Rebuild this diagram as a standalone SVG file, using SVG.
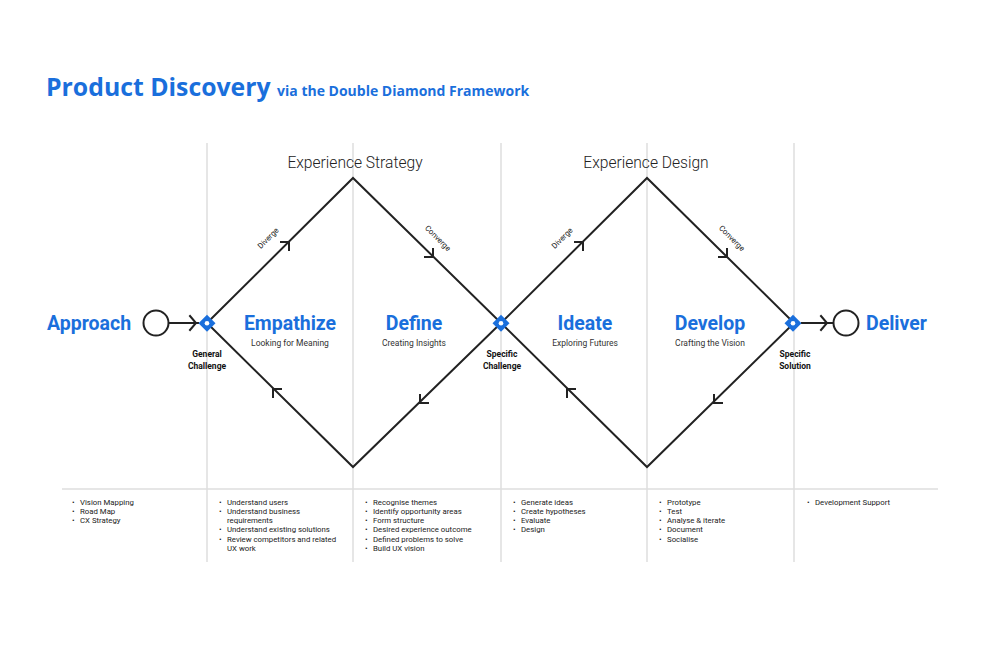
<svg xmlns="http://www.w3.org/2000/svg" width="1000" height="666" viewBox="0 0 1000 666">
<style>
.grid{stroke:#dedede;stroke-width:1.5;fill:none}
.dl{stroke:#222;stroke-width:2;fill:none}
.ah{stroke:#222;stroke-width:2;fill:none;stroke-linecap:square}
.title{font-family:"Open Sans",sans-serif;font-weight:700;fill:#1a6fdc}
.phase{font-family:Roboto,"Liberation Sans",sans-serif;font-weight:700;font-size:19.5px;fill:#1a6fdc}
.sub{font-family:Roboto,"Liberation Sans",sans-serif;font-size:8.5px;fill:#333;text-anchor:middle}
.node{font-family:Roboto,"Liberation Sans",sans-serif;font-weight:700;font-size:8.5px;fill:#111;text-anchor:middle}
.exp{font-family:Roboto,"Liberation Sans",sans-serif;font-weight:300;font-size:15.6px;fill:#222;text-anchor:middle}
.dv{font-family:Roboto,"Liberation Sans",sans-serif;font-size:7.8px;fill:#222;text-anchor:middle}
.li{font-family:Roboto,"Liberation Sans",sans-serif;font-size:7.8px;fill:#222}
</style>
<rect width="1000" height="666" fill="#fff"/>
<g id="title">
<text class="title" x="46" y="96" font-size="24.8">Product Discovery <tspan font-size="14">via the Double Diamond Framework</tspan></text>
</g>
<g id="grid">
<line class="grid" x1="207" y1="143" x2="207" y2="562"/>
<line class="grid" x1="353" y1="143" x2="353" y2="562"/>
<line class="grid" x1="501" y1="143" x2="501" y2="562"/>
<line class="grid" x1="647" y1="143" x2="647" y2="562"/>
<line class="grid" x1="794" y1="143" x2="794" y2="562"/>
<line class="grid" x1="62" y1="489" x2="938" y2="489"/>
</g>
<g id="connectors">
<polygon class="dl" points="207,323 353,178 501,323 353,467"/>
<polygon class="dl" points="501,323 647,178 794,323 647,467"/>
<line class="dl" x1="169" y1="323" x2="199" y2="323"/>
<line class="dl" x1="801" y1="323" x2="833" y2="323"/>
<polyline class="ah" points="190,316 196,323 190,330"/>
<polyline class="ah" points="821,316 827,323 821,330"/>
<polyline class="ah" points="281,242 289,242 289,250"/>
<polyline class="ah" points="433,249 433,257 425,257"/>
<polyline class="ah" points="281,389 273,389 273,397"/>
<polyline class="ah" points="420,395 420,403 428,403"/>
<polyline class="ah" points="575,242 583,242 583,250"/>
<polyline class="ah" points="727,249 727,257 719,257"/>
<polyline class="ah" points="575,389 567,389 567,397"/>
<polyline class="ah" points="714,395 714,403 722,403"/>
<text class="dv" transform="translate(270,240) rotate(-45)">Diverge</text>
<text class="dv" transform="translate(436,240) rotate(45)">Converge</text>
<text class="dv" transform="translate(564,240) rotate(-45)">Diverge</text>
<text class="dv" transform="translate(730,240) rotate(45)">Converge</text>
</g>
<g id="approach">
<circle cx="156" cy="323" r="12.5" fill="#fff" stroke="#222" stroke-width="2"/>
<text class="phase" x="47" y="330">Approach</text>
</g>
<g id="deliver">
<circle cx="846" cy="323" r="12.5" fill="#fff" stroke="#222" stroke-width="2"/>
<text class="phase" x="866" y="330">Deliver</text>
</g>
<g id="general-challenge">
<rect x="201" y="317.3" width="12" height="12" transform="rotate(45 207 323.3)" fill="#1a6fdc"/>
<circle cx="207" cy="323.3" r="2.3" fill="#fff"/>
<text class="node" x="207" y="357">General</text>
<text class="node" x="207" y="369">Challenge</text>
</g>
<g id="specific-challenge">
<rect x="495" y="317.3" width="12" height="12" transform="rotate(45 501 323.3)" fill="#1a6fdc"/>
<circle cx="501" cy="323.3" r="2.3" fill="#fff"/>
<text class="node" x="502" y="357">Specific</text>
<text class="node" x="502" y="369">Challenge</text>
</g>
<g id="specific-solution">
<rect x="787" y="317.3" width="12" height="12" transform="rotate(45 793 323.3)" fill="#1a6fdc"/>
<circle cx="793" cy="323.3" r="2.3" fill="#fff"/>
<text class="node" x="795" y="357">Specific</text>
<text class="node" x="795" y="369">Solution</text>
</g>
<g id="experience-strategy"><text class="exp" x="355" y="168">Experience Strategy</text></g>
<g id="experience-design"><text class="exp" x="646" y="168">Experience Design</text></g>
<g id="empathize">
<text class="phase" x="290" y="330" text-anchor="middle">Empathize</text>
<text class="sub" x="290" y="346">Looking for Meaning</text>
</g>
<g id="define">
<text class="phase" x="414" y="330" text-anchor="middle">Define</text>
<text class="sub" x="414" y="346">Creating Insights</text>
</g>
<g id="ideate">
<text class="phase" x="585" y="330" text-anchor="middle">Ideate</text>
<text class="sub" x="585" y="346">Exploring Futures</text>
</g>
<g id="develop">
<text class="phase" x="710" y="330" text-anchor="middle">Develop</text>
<text class="sub" x="710" y="346">Crafting the Vision</text>
</g>
<g id="list-approach" class="li">
<text class="li" x="72" y="504.5">•</text><text class="li" x="80" y="504.5">Vision Mapping</text>
<text class="li" x="72" y="513.8">•</text><text class="li" x="80" y="513.8">Road Map</text>
<text class="li" x="72" y="523.1">•</text><text class="li" x="80" y="523.1">CX Strategy</text>
</g>
<g id="list-empathize">
<text class="li" x="219" y="504.5">•</text><text class="li" x="227" y="504.5">Understand users</text>
<text class="li" x="219" y="513.8">•</text><text class="li" x="227" y="513.8">Understand business</text>
<text class="li" x="227" y="523.1">requirements</text>
<text class="li" x="219" y="532.4">•</text><text class="li" x="227" y="532.4">Understand existing solutions</text>
<text class="li" x="219" y="541.7">•</text><text class="li" x="227" y="541.7">Review competitors and related</text>
<text class="li" x="227" y="551">UX work</text>
</g>
<g id="list-define">
<text class="li" x="365" y="504.5">•</text><text class="li" x="373" y="504.5">Recognise themes</text>
<text class="li" x="365" y="513.8">•</text><text class="li" x="373" y="513.8">Identify opportunity areas</text>
<text class="li" x="365" y="523.1">•</text><text class="li" x="373" y="523.1">Form structure</text>
<text class="li" x="365" y="532.4">•</text><text class="li" x="373" y="532.4">Desired experience outcome</text>
<text class="li" x="365" y="541.7">•</text><text class="li" x="373" y="541.7">Defined problems to solve</text>
<text class="li" x="365" y="551">•</text><text class="li" x="373" y="551">Build UX vision</text>
</g>
<g id="list-ideate">
<text class="li" x="513" y="504.5">•</text><text class="li" x="521" y="504.5">Generate ideas</text>
<text class="li" x="513" y="513.8">•</text><text class="li" x="521" y="513.8">Create hypotheses</text>
<text class="li" x="513" y="523.1">•</text><text class="li" x="521" y="523.1">Evaluate</text>
<text class="li" x="513" y="532.4">•</text><text class="li" x="521" y="532.4">Design</text>
</g>
<g id="list-develop">
<text class="li" x="659" y="504.5">•</text><text class="li" x="667" y="504.5">Prototype</text>
<text class="li" x="659" y="513.8">•</text><text class="li" x="667" y="513.8">Test</text>
<text class="li" x="659" y="523.1">•</text><text class="li" x="667" y="523.1">Analyse &amp; iterate</text>
<text class="li" x="659" y="532.4">•</text><text class="li" x="667" y="532.4">Document</text>
<text class="li" x="659" y="541.7">•</text><text class="li" x="667" y="541.7">Socialise</text>
</g>
<g id="list-deliver">
<text class="li" x="807" y="504.5">•</text><text class="li" x="815" y="504.5">Development Support</text>
</g>
</svg>
